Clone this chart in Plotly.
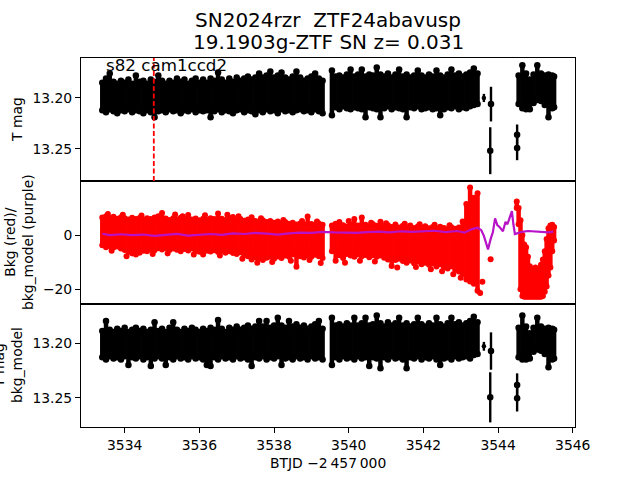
import numpy as np
import plotly.graph_objects as go
from plotly.subplots import make_subplots

# ---------------- data ----------------
t1 = [3533.40, 3533.50, 3533.60, 3533.70, 3533.80, 3533.90, 3534.00, 3534.10, 3534.20, 3534.30,
      3534.40, 3534.50, 3534.60, 3534.70, 3534.80, 3534.90, 3535.00, 3535.10, 3535.20, 3535.30,
      3535.40, 3535.50, 3535.60, 3535.70, 3535.80, 3535.90, 3536.00, 3536.10, 3536.20, 3536.30,
      3536.40, 3536.50, 3536.60, 3536.70, 3536.80, 3536.90, 3537.00, 3537.10, 3537.20, 3537.30,
      3537.40, 3537.50, 3537.60, 3537.70, 3537.80, 3537.90, 3538.00, 3538.10, 3538.20, 3538.30,
      3538.40, 3538.50, 3538.60, 3538.70, 3538.80, 3538.90, 3539.00, 3539.10, 3539.20, 3539.30]
t2 = [3539.55, 3539.65, 3539.75, 3539.85, 3539.95, 3540.05, 3540.15, 3540.25, 3540.35, 3540.45,
      3540.55, 3540.65, 3540.75, 3540.85, 3540.95, 3541.05, 3541.15, 3541.25, 3541.35, 3541.45,
      3541.55, 3541.65, 3541.75, 3541.85, 3541.95, 3542.05, 3542.15, 3542.25, 3542.35, 3542.45,
      3542.55, 3542.65, 3542.75, 3542.85, 3542.95, 3543.05, 3543.15, 3543.25, 3543.35, 3543.45]
t3 = [3544.55, 3544.65, 3544.75, 3544.85, 3544.95, 3545.05, 3545.15, 3545.25, 3545.35, 3545.45, 3545.50]

# top panel: T mag band envelopes (bright edge / faint edge)
tmag_up1 = [13.185, 13.181, 13.176, 13.184, 13.186, 13.183, 13.185, 13.182, 13.186, 13.178,
            13.184, 13.183, 13.186, 13.182, 13.184, 13.178, 13.183, 13.186, 13.183, 13.185,
            13.181, 13.184, 13.182, 13.186, 13.183, 13.181, 13.185, 13.182, 13.185, 13.181,
            13.183, 13.175, 13.182, 13.185, 13.181, 13.184, 13.180, 13.183, 13.181, 13.179,
            13.182, 13.180, 13.176, 13.180, 13.178, 13.174, 13.180, 13.178, 13.175, 13.180,
            13.182, 13.179, 13.174, 13.180, 13.183, 13.181, 13.179, 13.176, 13.181, 13.183]
tmag_dn1 = [13.212, 13.214, 13.211, 13.213, 13.215, 13.212, 13.213, 13.211, 13.214, 13.212,
            13.213, 13.215, 13.212, 13.214, 13.219, 13.213, 13.212, 13.214, 13.211, 13.213,
            13.212, 13.215, 13.212, 13.213, 13.211, 13.214, 13.212, 13.213, 13.212, 13.219,
            13.213, 13.211, 13.214, 13.212, 13.213, 13.215, 13.212, 13.211, 13.214, 13.212,
            13.213, 13.216, 13.212, 13.214, 13.211, 13.213, 13.212, 13.215, 13.211, 13.213,
            13.212, 13.214, 13.212, 13.211, 13.213, 13.212, 13.214, 13.211, 13.213, 13.215]
tmag_up2 = [13.173, 13.179, 13.178, 13.180, 13.177, 13.172, 13.179, 13.177, 13.172, 13.179,
            13.177, 13.178, 13.170, 13.177, 13.179, 13.176, 13.180, 13.177, 13.172, 13.179,
            13.177, 13.180, 13.178, 13.173, 13.178, 13.180, 13.177, 13.179, 13.173, 13.178,
            13.180, 13.177, 13.172, 13.178, 13.176, 13.179, 13.177, 13.175, 13.171, 13.176]
tmag_dn2 = [13.217, 13.209, 13.211, 13.208, 13.210, 13.211, 13.209, 13.210, 13.211, 13.219,
            13.209, 13.210, 13.211, 13.219, 13.210, 13.208, 13.211, 13.209, 13.210, 13.211,
            13.219, 13.209, 13.210, 13.208, 13.211, 13.210, 13.209, 13.211, 13.210, 13.217,
            13.211, 13.209, 13.210, 13.208, 13.211, 13.209, 13.210, 13.208, 13.207, 13.206]
tmag_up3 = [13.178, 13.168, 13.176, 13.182, 13.177, 13.168, 13.176, 13.178, 13.177, 13.178, 13.179]
tmag_dn3 = [13.206, 13.210, 13.211, 13.211, 13.205, 13.202, 13.203, 13.207, 13.219, 13.210, 13.209]
# isolated points with error bars (top panel)
tiso_t = [3543.81, 3543.79, 3544.51, 3544.51]
tiso_m = [13.206, 13.2517, 13.236, 13.249]
tiso_e = [0.017, 0.023, 0.010, 0.012]
tsmall_t = [3543.62]
tsmall_m = [13.200]
tsmall_e = [0.004]

# bottom panel: T mag - bkg_model band envelopes
dmag_up1 = [13.189, 13.180, 13.188, 13.190, 13.187, 13.189, 13.186, 13.190, 13.188, 13.186,
            13.189, 13.187, 13.190, 13.188, 13.181, 13.189, 13.187, 13.190, 13.186, 13.181,
            13.188, 13.190, 13.187, 13.189, 13.186, 13.188, 13.190, 13.187, 13.189, 13.186,
            13.188, 13.179, 13.187, 13.190, 13.186, 13.188, 13.185, 13.188, 13.186, 13.184,
            13.187, 13.185, 13.180, 13.185, 13.180, 13.186, 13.184, 13.177, 13.184, 13.186,
            13.180, 13.185, 13.183, 13.186, 13.184, 13.187, 13.185, 13.183, 13.180, 13.187]
dmag_dn1 = [13.213, 13.215, 13.212, 13.214, 13.213, 13.215, 13.212, 13.220, 13.213, 13.214,
            13.212, 13.215, 13.213, 13.221, 13.214, 13.212, 13.214, 13.220, 13.213, 13.215,
            13.212, 13.214, 13.213, 13.215, 13.212, 13.214, 13.213, 13.215, 13.220, 13.221,
            13.213, 13.215, 13.212, 13.214, 13.213, 13.215, 13.212, 13.214, 13.213, 13.215,
            13.221, 13.213, 13.214, 13.212, 13.215, 13.213, 13.214, 13.212, 13.220, 13.214,
            13.213, 13.215, 13.212, 13.214, 13.213, 13.215, 13.212, 13.214, 13.213, 13.215]
dmag_up2 = [13.177, 13.184, 13.183, 13.185, 13.182, 13.184, 13.177, 13.184, 13.182, 13.177,
            13.184, 13.183, 13.175, 13.182, 13.185, 13.181, 13.184, 13.182, 13.177, 13.184,
            13.182, 13.185, 13.183, 13.177, 13.183, 13.185, 13.182, 13.184, 13.177, 13.183,
            13.185, 13.182, 13.177, 13.183, 13.181, 13.184, 13.182, 13.180, 13.176, 13.181]
dmag_dn2 = [13.220, 13.213, 13.215, 13.212, 13.214, 13.213, 13.215, 13.212, 13.214, 13.213,
            13.221, 13.213, 13.214, 13.223, 13.213, 13.215, 13.212, 13.214, 13.213, 13.215,
            13.223, 13.213, 13.214, 13.212, 13.215, 13.213, 13.214, 13.212, 13.215, 13.220,
            13.214, 13.213, 13.215, 13.212, 13.214, 13.213, 13.212, 13.214, 13.211, 13.210]
dmag_up3 = [13.186, 13.175, 13.185, 13.191, 13.186, 13.177, 13.185, 13.187, 13.186, 13.187, 13.188]
dmag_dn3 = [13.213, 13.215, 13.215, 13.214, 13.208, 13.206, 13.207, 13.210, 13.222, 13.215, 13.214]
diso_t = [3543.81, 3543.79, 3544.51, 3544.51]
diso_m = [13.2073, 13.2494, 13.2382, 13.2503]
diso_e = [0.017, 0.0228, 0.0106, 0.012]
dsmall_t = [3543.62]
dsmall_m = [13.203]
dsmall_e = [0.004]

# middle panel: background (red) envelopes
bkg_hi1 = [6.5, 7.0, 6.3, 6.8, 6.0, 6.6, 6.2, 5.8, 6.4, 5.9,
           6.3, 5.7, 6.2, 5.9, 6.5, 7.0, 8.2, 6.1, 5.6, 6.2,
           5.8, 6.4, 6.0, 7.4, 5.8, 6.1, 5.5, 6.0, 5.7, 6.2,
           5.9, 8.0, 6.0, 5.6, 6.3, 6.7, 5.5, 5.9, 5.3, 5.8,
           6.6, 5.2, 5.0, 5.5, 4.8, 5.2, 4.6, 5.0, 4.4, 4.8,
           4.2, 4.6, 3.9, 4.3, 4.0, 6.9, 4.1, 3.7, 4.3, 3.8]
bkg_lo1 = [-3.8, -4.5, -4.0, -4.6, -4.2, -5.0, -5.5, -6.2, -6.8, -7.2,
           -6.5, -5.8, -6.0, -5.2, -5.6, -4.9, -5.3, -4.8, -5.5, -5.0,
           -5.4, -6.0, -5.2, -5.7, -5.0, -5.9, -6.2, -7.2, -5.8, -6.1,
           -5.6, -6.3, -5.9, -6.5, -6.0, -6.6, -7.0, -6.4, -7.4, -7.8,
           -9.0, -8.2, -8.6, -9.2, -8.4, -8.0, -8.8, -7.9, -8.5, -7.6,
           -8.0, -7.2, -11.7, -7.8, -8.3, -7.5, -8.0, -7.3, -7.8, -8.5]
bkg_hi2 = [3.5, 4.2, 3.0, 3.6, 3.2, 4.0, 5.9, 3.5, 6.5, 3.8,
           3.3, 4.0, 3.4, 4.9, 3.1, 3.6, 3.0, 3.9, 2.8, 3.4,
           2.9, 3.5, 2.6, 3.2, 2.7, 3.3, 2.5, 3.0, 2.4, 3.1,
           2.6, 2.2, 2.9, 2.3, 2.8, 5.0, 11.5, 17.6, 13.8, 15.5]
bkg_lo2 = [-6.0, -9.5, -7.5, -8.5, -7.0, -7.6, -8.0, -7.2, -7.8, -7.4,
           -8.2, -7.5, -8.0, -7.6, -8.4, -9.0, -11.4, -9.2, -8.8, -9.6,
           -10.2, -9.4, -10.4, -9.8, -10.8, -10.2, -11.0, -10.5, -11.6, -10.8,
           -11.8, -12.4, -11.5, -12.8, -13.5, -14.4, -16.4, -17.2, -18.0, -20.6]
t3r = [3544.50, 3544.55, 3544.60, 3544.65, 3544.70, 3544.75, 3544.80, 3544.85, 3544.90, 3544.95,
       3545.00, 3545.05, 3545.10, 3545.15, 3545.20, 3545.25, 3545.30, 3545.35, 3545.40, 3545.45, 3545.50]
bkg_hi3 = [12.4, 10.0, 5.5, 0.0, -3.5, -4.5, -8.0, -11.5, -12.5, -13.0,
           -12.0, -13.0, -12.5, -11.0, -9.0, -6.0, -1.5, 2.5, 3.5, 3.8, 3.0]
bkg_lo3 = [10.0, 4.0, -20.0, -22.5, -22.8, -22.8, -22.8, -22.8, -22.8, -22.8,
           -22.8, -22.8, -22.8, -22.8, -22.5, -21.0, -19.0, -15.0, -12.0, -6.0, -2.0]
# scattered background points sticking out of the band
bkg_out_t = [3533.55, 3533.95, 3534.45, 3535.35, 3535.55, 3536.15, 3536.75, 3537.05, 3537.65, 3538.25,
             3538.75, 3539.15, 3533.65, 3534.05, 3534.75, 3535.15, 3535.85, 3536.55, 3537.15, 3537.55,
             3537.95, 3538.45, 3538.95, 3539.25, 3539.75, 3540.00, 3540.60, 3541.00, 3541.50, 3541.90,
             3542.30, 3542.70, 3539.90, 3540.30, 3540.70, 3541.30, 3541.80, 3542.20, 3542.50, 3542.80,
             3543.00, 3543.52, 3543.58, 3543.80]
bkg_out_v = [7.8, 7.5, 7.2, 7.6, 7.0, 7.3, 7.5, 7.0, 6.2, 5.6,
             5.2, 5.0, -5.8, -7.8, -7.0, -6.8, -7.2, -7.6, -8.8, -10.2,
             -10.0, -9.5, -9.2, -10.3, 4.8, 5.2, 4.6, 4.4, 4.2, 4.0,
             3.8, 3.6, -10.2, -9.5, -9.8, -12.0, -11.8, -12.6, -13.4, -14.5,
             -15.8, -21.4, -17.3, -8.9]

# background model (purple)
bm_t = [3533.40, 3533.60, 3533.90, 3534.20, 3534.50, 3534.80, 3535.10, 3535.40, 3535.70, 3536.00,
        3536.30, 3536.60, 3536.90, 3537.20, 3537.50, 3537.80, 3538.10, 3538.40, 3538.70, 3539.00,
        3539.30, 3539.60, 3539.90, 3540.20, 3540.50, 3540.80, 3541.10, 3541.40, 3541.70, 3542.00,
        3542.30, 3542.60, 3542.90, 3543.10, 3543.30, 3543.45, 3543.55, 3543.62, 3543.73, 3543.80,
        3543.86, 3543.92, 3543.98, 3544.05, 3544.13, 3544.20, 3544.25, 3544.30, 3544.37, 3544.41,
        3544.45, 3544.55, 3544.64, 3544.80, 3545.00, 3545.20, 3545.35, 3545.48]
bm_v = [0.5, 0.0, 0.3, 0.0, 0.2, -0.3, 0.1, 0.4, -0.2, 0.2,
        0.4, 0.1, 0.6, 0.4, 0.8, 0.5, 0.2, 0.6, 0.9, 0.8,
        1.2, 1.0, 0.9, 0.8, 1.1, 1.3, 1.0, 1.4, 1.2, 1.3,
        1.6, 1.1, 1.5, 0.9, 2.2, 2.7, 1.8, -0.3, -5.3, -1.5,
        1.0, 6.2, 3.7, 2.8, 1.4, 4.9, 4.0, 6.0, 8.9, 4.0,
        0.4, 0.8, 1.2, 1.5, 1.4, 1.3, 1.0, 1.3]

x_ticks = [3534, 3536, 3538, 3540, 3542, 3544, 3546]
mag_ticks = [13.20, 13.25]
bkg_ticks = [-20, 0]

for a, b in [(t1, tmag_up1), (t1, tmag_dn1), (t2, tmag_up2), (t2, tmag_dn2), (t3, tmag_up3), (t3, tmag_dn3),
             (t1, dmag_up1), (t1, dmag_dn1), (t2, dmag_up2), (t2, dmag_dn2), (t3, dmag_up3), (t3, dmag_dn3),
             (t1, bkg_hi1), (t1, bkg_lo1), (t2, bkg_hi2), (t2, bkg_lo2), (t3r, bkg_hi3), (t3r, bkg_lo3),
             (bm_t, bm_v), (bkg_out_t, bkg_out_v)]:
    assert len(a) == len(b), (len(a), len(b))

FONT = "DejaVu Sans"
BLACK = "black"
RED = "#ff0000"
PURPLE = "#b812c8"

fig = make_subplots(rows=3, cols=1, shared_xaxes=True, vertical_spacing=0)


def add_band(t, a, b, color, row, msize, thick):
    t = np.asarray(t, float)
    a = np.asarray(a, float)
    b = np.asarray(b, float)
    lo = np.minimum(a, b)
    hi = np.maximum(a, b)
    fig.add_trace(go.Scatter(x=t, y=hi, mode="markers", marker=dict(size=2, color=color),
                             error_y=dict(type="data", symmetric=False, array=np.zeros_like(hi),
                                          arrayminus=hi - lo, thickness=thick, width=0, color=color),
                             showlegend=False, hoverinfo="skip"), row=row, col=1)
    fig.add_trace(go.Scatter(x=np.concatenate([t, t]), y=np.concatenate([a, b]), mode="markers",
                             marker=dict(size=msize, color=color, line=dict(width=0)),
                             showlegend=False, hoverinfo="skip"), row=row, col=1)


def add_iso(t, m, e, row, msize, thick):
    fig.add_trace(go.Scatter(x=t, y=m, mode="markers",
                             marker=dict(size=msize, color=BLACK, line=dict(width=0)),
                             error_y=dict(type="data", array=e, thickness=thick, width=0, color=BLACK),
                             showlegend=False, hoverinfo="skip"), row=row, col=1)


# top panel
add_band(t1, tmag_up1, tmag_dn1, BLACK, 1, 6.5, 4.5)
add_band(t2, tmag_up2, tmag_dn2, BLACK, 1, 6.5, 4.5)
add_band(t3, tmag_up3, tmag_dn3, BLACK, 1, 6.5, 4.5)
add_iso(tiso_t, tiso_m, tiso_e, 1, 6.5, 2.4)
add_iso(tsmall_t, tsmall_m, tsmall_e, 1, 4.5, 2.4)

# middle panel
add_band(t1, bkg_hi1, bkg_lo1, RED, 2, 6, 4.5)
add_band(t2, bkg_hi2, bkg_lo2, RED, 2, 6, 4.5)
add_band(t3r, bkg_hi3, bkg_lo3, RED, 2, 6, 4.5)
fig.add_trace(go.Scatter(x=bkg_out_t, y=bkg_out_v, mode="markers", marker=dict(size=6, color=RED),
                         showlegend=False, hoverinfo="skip"), row=2, col=1)
fig.add_trace(go.Scatter(x=bm_t, y=bm_v, mode="lines", line=dict(color=PURPLE, width=2.2),
                         showlegend=False, hoverinfo="skip"), row=2, col=1)

# bottom panel
add_band(t1, dmag_up1, dmag_dn1, BLACK, 3, 6.5, 4.5)
add_band(t2, dmag_up2, dmag_dn2, BLACK, 3, 6.5, 4.5)
add_band(t3, dmag_up3, dmag_dn3, BLACK, 3, 6.5, 4.5)
add_iso(diso_t, diso_m, diso_e, 3, 6.5, 2.4)
add_iso(dsmall_t, dsmall_m, dsmall_e, 3, 4.5, 2.4)

# vertical dashed red line (top panel)
fig.add_shape(type="line", x0=3534.78, x1=3534.78, xref="x", y0=0, y1=1, yref="y domain",
              line=dict(color=RED, width=1.8, dash="5px,2.5px"))

axis_common = dict(showline=True, mirror=True, linecolor="black", linewidth=1,
                   showgrid=False, zeroline=False)
for r in (1, 2, 3):
    fig.update_xaxes(range=[3532.83, 3546.06], **axis_common, row=r, col=1)
fig.update_xaxes(ticks="", showticklabels=False, row=1, col=1)
fig.update_xaxes(ticks="", showticklabels=False, row=2, col=1)
fig.update_xaxes(ticks="outside", ticklen=5, tickcolor="black", tickvals=x_ticks,
                 ticktext=[str(v) for v in x_ticks], tickfont=dict(size=13.9, color="black"),
                 showticklabels=True, row=3, col=1)

ycommon = dict(ticks="outside", ticklen=5, tickcolor="black", tickfont=dict(size=13.9, color="black"))
fig.update_yaxes(range=[13.2814, 13.1608], tickvals=mag_ticks, ticktext=["13.20", "13.25"],
                 **axis_common, **ycommon, row=1, col=1)
fig.update_yaxes(range=[-25.5, 20.0], tickvals=bkg_ticks, ticktext=["\u221220", "0"],
                 **axis_common, **ycommon, row=2, col=1)
fig.update_yaxes(range=[13.2764, 13.1645], tickvals=mag_ticks, ticktext=["13.20", "13.25"],
                 **axis_common, **ycommon, row=3, col=1)

L, R, T, B = 81, 65, 58, 53
W, H = 640 - L - R, 480 - T - B


def px_x(px):
    return (px - L) / W


def px_y(py):
    return (480 - B - py) / H


annots = [
    dict(text="SN2024rzr \u00a0ZTF24abavusp", x=px_x(328), y=px_y(20),
         xanchor="center", yanchor="middle", font=dict(size=20)),
    dict(text="19.1903g-ZTF SN z= 0.031", x=px_x(328), y=px_y(42),
         xanchor="center", yanchor="middle", font=dict(size=20)),
    dict(text="s82 cam1ccd2", x=px_x(104), y=px_y(65), xanchor="left", yanchor="middle",
         font=dict(size=16.7)),
    dict(text="T mag", x=px_x(17), y=px_y(120), xanchor="center", yanchor="middle",
         textangle=-90, font=dict(size=13.9)),
    dict(text="Bkg (red)/<br>bkg_model (purple)", x=px_x(19), y=px_y(242), xanchor="center",
         yanchor="middle", textangle=-90, font=dict(size=13.9)),
    dict(text="T mag<br>bkg_model", x=px_x(8), y=px_y(365), xanchor="center", yanchor="middle",
         textangle=-90, font=dict(size=13.9)),
    dict(text="BTJD \u22122\u2009457\u2009000", x=px_x(328), y=px_y(463), xanchor="center",
         yanchor="middle", font=dict(size=13.9)),
]
for a in annots:
    fig.add_annotation(xref="paper", yref="paper", showarrow=False, **a)

fig.update_layout(width=640, height=480, margin=dict(l=L, r=R, t=T, b=B),
                  paper_bgcolor="white", plot_bgcolor="white",
                  font=dict(family=FONT, color="black"), showlegend=False)

fig.write_html("out.html")
